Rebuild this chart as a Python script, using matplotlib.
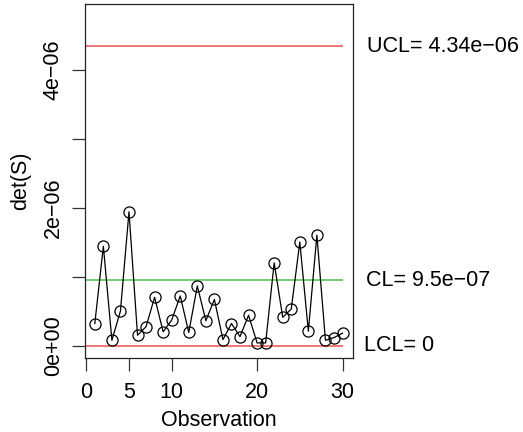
import matplotlib
matplotlib.use("Agg")
import matplotlib.pyplot as plt
import matplotlib.transforms as mtransforms

plt.rcParams['font.family'] = ['Liberation Sans', 'DejaVu Sans']

# generalized variance |S| for each subgroup
obs = list(range(1, 31))
det_s = [0.32, 1.44, 0.077, 0.50, 1.94, 0.15, 0.275, 0.70, 0.20, 0.37,
         0.72, 0.19, 0.865, 0.36, 0.67, 0.087, 0.32, 0.13, 0.44, 0.039,
         0.039, 1.20, 0.41, 0.53, 1.50, 0.21, 1.60, 0.077, 0.116, 0.18]
det_s = [v * 1e-6 for v in det_s]

ucl = 4.34e-06
cl = 9.5e-07
lcl = 0.0
limit_labels = ["UCL= 4.34e\u221206", "CL= 9.5e\u221207", "LCL= 0"]

y_ticks = [0, 1e-6, 2e-6, 3e-6, 4e-6]
y_ticklabels = ["0e+00", "", "2e\u221206", "", "4e\u221206"]
x_ticks = [0, 5, 10, 20, 30]

fig = plt.figure(figsize=(5.23, 4.32), dpi=100)
ax = fig.add_axes([0.163, 0.1706, 0.511, 0.82])

red = '#E8524C'
green = '#4CC44C'
ax.hlines([ucl, lcl], 0, 30, color=red, linewidth=1.1)
ax.hlines([cl], 0, 30, color=green, linewidth=1.1)

ax.plot(obs, det_s, color='black', linewidth=0.9, marker='o', markersize=8,
        markerfacecolor='none', markeredgecolor='black', markeredgewidth=0.9)

ax.set_xlim(-0.12, 31.17)
ax.set_ylim(-0.184e-6, 4.95e-6)

fs = 15.5
ax.set_xticks(x_ticks)
ax.set_xticklabels([str(t) for t in x_ticks], fontsize=fs)
ax.set_yticks(y_ticks)
ax.set_yticklabels(y_ticklabels, fontsize=fs, rotation=90, va='center')
ax.tick_params(axis='both', length=9.5, width=0.9, color='#333333')
ax.tick_params(axis='x', pad=7.5)
ax.tick_params(axis='y', pad=6)

for sp in ax.spines.values():
    sp.set_linewidth(0.9)
    sp.set_color('#222222')

ax.set_xlabel("Observation", fontsize=fs, labelpad=5)
ax.set_ylabel("det(S)", fontsize=fs, labelpad=8)

trans = mtransforms.blended_transform_factory(ax.transAxes, ax.transData)
for label, yv, xoff in zip(limit_labels, [ucl, cl, lcl], [1.053, 1.051, 1.044]):
    ax.text(xoff, yv, label, transform=trans, fontsize=fs, va='center', ha='left',
            clip_on=False)

fig.savefig("out.png", dpi=100)
